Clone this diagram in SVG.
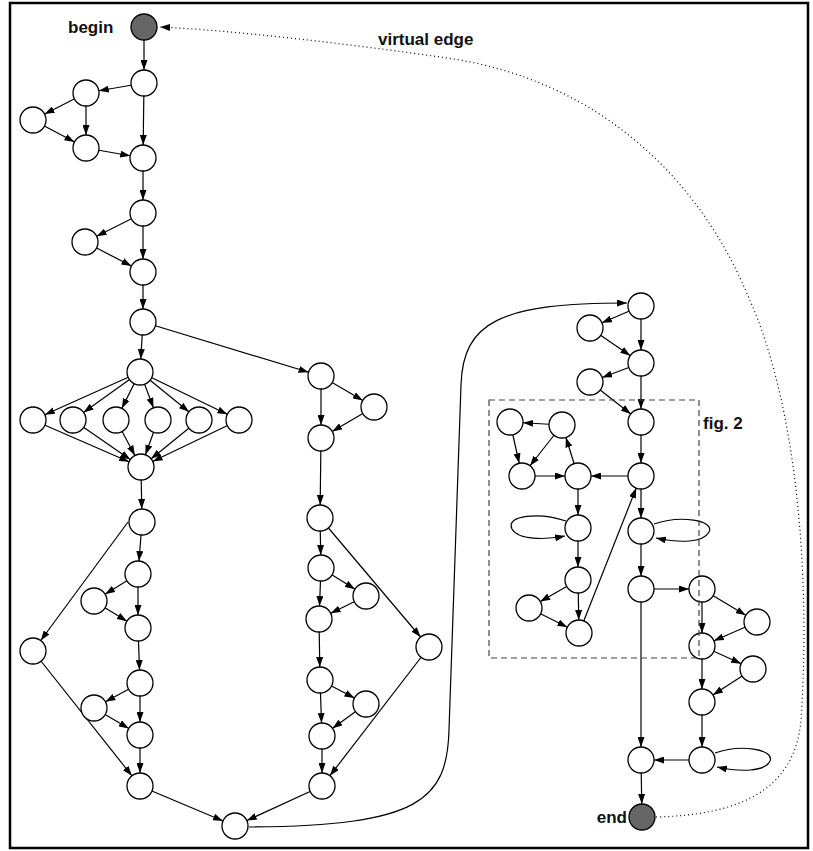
<svg xmlns="http://www.w3.org/2000/svg" width="813" height="851" viewBox="0 0 813 851">
<style>
.n{fill:#fff;stroke:#000;stroke-width:1.3}
.s{fill:#666;stroke:#000;stroke-width:1.3}
.e{stroke:#000;stroke-width:1.2;fill:none;marker-end:url(#a)}
.c{stroke:#000;stroke-width:1.2;fill:none;marker-end:url(#b)}
.v{stroke:#000;stroke-width:1.2;fill:none;stroke-dasharray:1 3;marker-end:url(#b)}
.t{font-family:"Liberation Sans",Arial,sans-serif;font-weight:bold;font-size:17px;fill:#111}
</style>
<defs>
<marker id="a" viewBox="0 0 10 7" markerWidth="10" markerHeight="7" refX="23" refY="3.5" orient="auto" markerUnits="userSpaceOnUse"><path d="M0,0L10,3.5L0,7z" fill="#000"/></marker>
<marker id="b" viewBox="0 0 10 7" markerWidth="10" markerHeight="7" refX="10" refY="3.5" orient="auto" markerUnits="userSpaceOnUse"><path d="M0,0L10,3.5L0,7z" fill="#000"/></marker>
</defs>
<rect x="10" y="3" width="798" height="845" fill="none" stroke="#000" stroke-width="2.5"/>
<g id="connectors">
<line class="e" x1="144" y1="27" x2="144" y2="83"/>
<line class="e" x1="144" y1="83" x2="86" y2="93"/>
<line class="e" x1="144" y1="83" x2="143" y2="158"/>
<line class="e" x1="86" y1="93" x2="33" y2="120"/>
<line class="e" x1="86" y1="93" x2="86" y2="148"/>
<line class="e" x1="33" y1="120" x2="86" y2="148"/>
<line class="e" x1="86" y1="148" x2="143" y2="158"/>
<line class="e" x1="143" y1="158" x2="143" y2="213"/>
<line class="e" x1="143" y1="213" x2="85" y2="242"/>
<line class="e" x1="143" y1="213" x2="143" y2="272"/>
<line class="e" x1="85" y1="242" x2="143" y2="272"/>
<line class="e" x1="143" y1="272" x2="143" y2="322"/>
<line class="e" x1="143" y1="322" x2="140" y2="372"/>
<line class="e" x1="143" y1="322" x2="321" y2="376"/>
<line class="e" x1="140" y1="372" x2="33" y2="420"/>
<line class="e" x1="140" y1="372" x2="73" y2="420"/>
<line class="e" x1="140" y1="372" x2="116" y2="420"/>
<line class="e" x1="140" y1="372" x2="158" y2="420"/>
<line class="e" x1="140" y1="372" x2="199" y2="420"/>
<line class="e" x1="140" y1="372" x2="239" y2="420"/>
<line class="e" x1="33" y1="420" x2="141" y2="467"/>
<line class="e" x1="73" y1="420" x2="141" y2="467"/>
<line class="e" x1="116" y1="420" x2="141" y2="467"/>
<line class="e" x1="158" y1="420" x2="141" y2="467"/>
<line class="e" x1="199" y1="420" x2="141" y2="467"/>
<line class="e" x1="239" y1="420" x2="141" y2="467"/>
<line class="e" x1="141" y1="467" x2="142" y2="522"/>
<line class="e" x1="142" y1="522" x2="138" y2="574"/>
<line class="e" x1="128" y1="522" x2="33" y2="651"/>
<line class="e" x1="138" y1="574" x2="94" y2="601"/>
<line class="e" x1="138" y1="574" x2="138" y2="628"/>
<line class="e" x1="94" y1="601" x2="138" y2="628"/>
<line class="e" x1="138" y1="628" x2="140" y2="683"/>
<line class="e" x1="140" y1="683" x2="94" y2="708"/>
<line class="e" x1="140" y1="683" x2="140" y2="735"/>
<line class="e" x1="94" y1="708" x2="140" y2="735"/>
<line class="e" x1="140" y1="735" x2="140" y2="786"/>
<line class="e" x1="33" y1="651" x2="140" y2="786"/>
<line class="e" x1="140" y1="786" x2="235" y2="826"/>
<line class="e" x1="322" y1="786" x2="235" y2="826"/>
<line class="e" x1="321" y1="376" x2="374" y2="407"/>
<line class="e" x1="321" y1="376" x2="321" y2="438"/>
<line class="e" x1="374" y1="407" x2="321" y2="438"/>
<line class="e" x1="321" y1="438" x2="320" y2="518"/>
<line class="e" x1="320" y1="518" x2="321" y2="568"/>
<line class="e" x1="320" y1="518" x2="429" y2="647"/>
<line class="e" x1="321" y1="568" x2="366" y2="596"/>
<line class="e" x1="321" y1="568" x2="319" y2="619"/>
<line class="e" x1="366" y1="596" x2="319" y2="619"/>
<line class="e" x1="319" y1="619" x2="320" y2="680"/>
<line class="e" x1="320" y1="680" x2="366" y2="704"/>
<line class="e" x1="320" y1="680" x2="322" y2="736"/>
<line class="e" x1="366" y1="704" x2="322" y2="736"/>
<line class="e" x1="322" y1="736" x2="322" y2="786"/>
<line class="e" x1="429" y1="647" x2="322" y2="786"/>
<path class="c" d="M249,827 C420,826 447,800 449,730 L461,385 C463,322 500,303 627,303"/>
<line class="e" x1="641" y1="306" x2="590" y2="328"/>
<line class="e" x1="641" y1="306" x2="641" y2="363"/>
<line class="e" x1="590" y1="328" x2="641" y2="363"/>
<line class="e" x1="641" y1="363" x2="590" y2="382"/>
<line class="e" x1="641" y1="363" x2="641" y2="422"/>
<line class="e" x1="590" y1="382" x2="641" y2="422"/>
<line class="e" x1="641" y1="422" x2="641" y2="476"/>
<line class="e" x1="641" y1="476" x2="578" y2="476"/>
<line class="e" x1="522" y1="476" x2="578" y2="476"/>
<line class="e" x1="510" y1="422" x2="522" y2="476"/>
<line class="e" x1="562" y1="425" x2="510" y2="422"/>
<line class="e" x1="562" y1="425" x2="522" y2="476"/>
<line class="e" x1="578" y1="476" x2="562" y2="425"/>
<line class="e" x1="578" y1="476" x2="578" y2="528"/>
<path class="c" d="M566,521 C540,512 505,515 512,529 C518,540 545,540 565,536"/>
<line class="e" x1="578" y1="528" x2="578" y2="580"/>
<line class="e" x1="578" y1="580" x2="529" y2="608"/>
<line class="e" x1="578" y1="580" x2="579" y2="633"/>
<line class="e" x1="529" y1="608" x2="579" y2="633"/>
<line class="e" x1="579" y1="633" x2="641" y2="476"/>
<line class="e" x1="641" y1="476" x2="641" y2="531"/>
<path class="c" d="M654,524 C680,515 715,520 709,532 C703,543 680,543 656,538"/>
<line class="e" x1="641" y1="531" x2="641" y2="589"/>
<line class="e" x1="641" y1="589" x2="702" y2="589"/>
<line class="e" x1="641" y1="589" x2="641" y2="760"/>
<line class="e" x1="702" y1="589" x2="757" y2="622"/>
<line class="e" x1="702" y1="589" x2="702" y2="646"/>
<line class="e" x1="757" y1="622" x2="702" y2="646"/>
<line class="e" x1="702" y1="646" x2="753" y2="669"/>
<line class="e" x1="702" y1="646" x2="702" y2="702"/>
<line class="e" x1="753" y1="669" x2="702" y2="702"/>
<line class="e" x1="702" y1="702" x2="702" y2="760"/>
<path class="c" d="M715,753 C740,744 775,749 770,761 C765,772 740,772 717,767"/>
<line class="e" x1="702" y1="760" x2="641" y2="760"/>
<line class="e" x1="641" y1="760" x2="642" y2="817"/>
<path class="v" d="M656,817 C740,815 795,790 801,720 C810,590 800,410 748,296 C700,180 600,80 447,58 C350,44 230,30 160,27"/>
</g>
<g id="begin"><circle class="s" cx="144" cy="27" r="13"/><text class="t" x="68" y="33">begin</text></g>
<g id="end"><circle class="s" cx="642" cy="817" r="13"/><text class="t" x="627" y="823" text-anchor="end">end</text></g>
<text id="virtual-edge-label" class="t" x="378" y="45">virtual edge</text>
<g id="n1"><circle class="n" cx="144" cy="83" r="13"/></g>
<g id="n2"><circle class="n" cx="86" cy="93" r="13"/></g>
<g id="n3"><circle class="n" cx="33" cy="120" r="13"/></g>
<g id="n4"><circle class="n" cx="86" cy="148" r="13"/></g>
<g id="n5"><circle class="n" cx="143" cy="158" r="13"/></g>
<g id="n6"><circle class="n" cx="143" cy="213" r="13"/></g>
<g id="n7"><circle class="n" cx="85" cy="242" r="13"/></g>
<g id="n8"><circle class="n" cx="143" cy="272" r="13"/></g>
<g id="n9"><circle class="n" cx="143" cy="322" r="13"/></g>
<g id="n10"><circle class="n" cx="140" cy="372" r="13"/></g>
<g id="f1"><circle class="n" cx="33" cy="420" r="13"/></g>
<g id="f2"><circle class="n" cx="73" cy="420" r="13"/></g>
<g id="f3"><circle class="n" cx="116" cy="420" r="13"/></g>
<g id="f4"><circle class="n" cx="158" cy="420" r="13"/></g>
<g id="f5"><circle class="n" cx="199" cy="420" r="13"/></g>
<g id="f6"><circle class="n" cx="239" cy="420" r="13"/></g>
<g id="n11"><circle class="n" cx="141" cy="467" r="13"/></g>
<g id="n12"><circle class="n" cx="142" cy="522" r="13"/></g>
<g id="n13"><circle class="n" cx="138" cy="574" r="13"/></g>
<g id="n14"><circle class="n" cx="94" cy="601" r="13"/></g>
<g id="n15"><circle class="n" cx="138" cy="628" r="13"/></g>
<g id="n16"><circle class="n" cx="33" cy="651" r="13"/></g>
<g id="n17"><circle class="n" cx="140" cy="683" r="13"/></g>
<g id="n18"><circle class="n" cx="94" cy="708" r="13"/></g>
<g id="n19"><circle class="n" cx="140" cy="735" r="13"/></g>
<g id="n20"><circle class="n" cx="140" cy="786" r="13"/></g>
<g id="n21"><circle class="n" cx="235" cy="826" r="13"/></g>
<g id="r1"><circle class="n" cx="321" cy="376" r="13"/></g>
<g id="r2"><circle class="n" cx="374" cy="407" r="13"/></g>
<g id="r3"><circle class="n" cx="321" cy="438" r="13"/></g>
<g id="r4"><circle class="n" cx="320" cy="518" r="13"/></g>
<g id="r5"><circle class="n" cx="321" cy="568" r="13"/></g>
<g id="r6"><circle class="n" cx="366" cy="596" r="13"/></g>
<g id="r7"><circle class="n" cx="319" cy="619" r="13"/></g>
<g id="r8"><circle class="n" cx="429" cy="647" r="13"/></g>
<g id="r9"><circle class="n" cx="320" cy="680" r="13"/></g>
<g id="r10"><circle class="n" cx="366" cy="704" r="13"/></g>
<g id="r11"><circle class="n" cx="322" cy="736" r="13"/></g>
<g id="r12"><circle class="n" cx="322" cy="786" r="13"/></g>
<g id="g1"><circle class="n" cx="641" cy="306" r="13"/></g>
<g id="g2"><circle class="n" cx="590" cy="328" r="13"/></g>
<g id="g3"><circle class="n" cx="641" cy="363" r="13"/></g>
<g id="g4"><circle class="n" cx="590" cy="382" r="13"/></g>
<g id="g5"><circle class="n" cx="641" cy="422" r="13"/></g>
<g id="g6"><circle class="n" cx="641" cy="476" r="13"/></g>
<g id="g7"><circle class="n" cx="641" cy="531" r="13"/></g>
<g id="g8"><circle class="n" cx="641" cy="589" r="13"/></g>
<g id="g9"><circle class="n" cx="641" cy="760" r="13"/></g>
<g id="b1"><circle class="n" cx="510" cy="422" r="13"/></g>
<g id="b2"><circle class="n" cx="562" cy="425" r="13"/></g>
<g id="b3"><circle class="n" cx="522" cy="476" r="13"/></g>
<g id="b4"><circle class="n" cx="578" cy="476" r="13"/></g>
<g id="b5"><circle class="n" cx="578" cy="528" r="13"/></g>
<g id="b6"><circle class="n" cx="578" cy="580" r="13"/></g>
<g id="b7"><circle class="n" cx="529" cy="608" r="13"/></g>
<g id="b8"><circle class="n" cx="579" cy="633" r="13"/></g>
<g id="h1"><circle class="n" cx="702" cy="589" r="13"/></g>
<g id="h2"><circle class="n" cx="757" cy="622" r="13"/></g>
<g id="h3"><circle class="n" cx="702" cy="646" r="13"/></g>
<g id="h4"><circle class="n" cx="753" cy="669" r="13"/></g>
<g id="h5"><circle class="n" cx="702" cy="702" r="13"/></g>
<g id="h6"><circle class="n" cx="702" cy="760" r="13"/></g>
<g id="fig2">
<rect x="489" y="400" width="210" height="258" fill="none" stroke="#444" stroke-width="1.2" stroke-dasharray="6 4"/>
<text class="t" x="703" y="429">fig. 2</text>
</g>
</svg>
